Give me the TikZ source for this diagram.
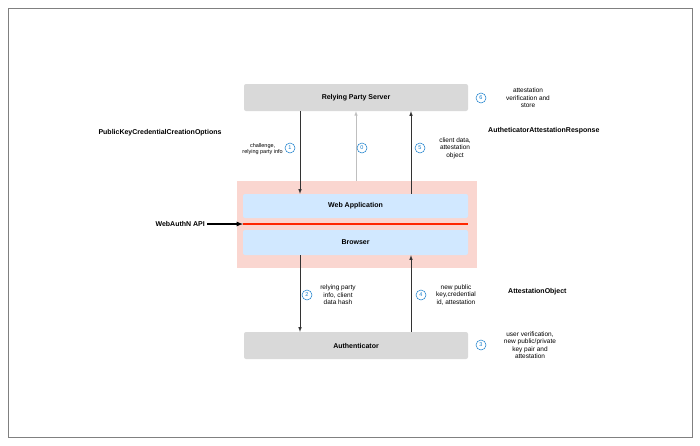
\documentclass[tikz,border=0pt]{standalone}
\usepackage{fontspec}
\setmainfont{Liberation Sans}
\definecolor{pinkbg}{RGB}{250,214,208}
\begin{document}
\begin{tikzpicture}[x=1pt,y=-1pt,
 box/.style={draw=none,rounded corners=2pt,font=\fontsize{7}{8}\selectfont\bfseries},
 gbox/.style={box,fill=gray!30},
 bbox/.style={box,fill=blue!50!cyan!18},
 num/.style={circle,draw=cyan!60!blue,text=cyan!60!blue,line width=0.5pt,inner sep=0pt,minimum size=10pt,font=\fontsize{5.5}{6}\selectfont},
 lab/.style={align=center,font=\fontsize{6.5}{7.5}\selectfont,inner sep=0pt},
 bold/.style={font=\fontsize{7}{8}\selectfont\bfseries,inner sep=0pt},
 arr/.style={-latex,line width=0.6pt,draw=black!80}]
\useasboundingbox (0,0) rectangle (700,445);
\draw[gray,line width=0.6pt] (8,8) rectangle (692,437);
\fill[pinkbg] (237,181) rectangle (477,268);
\node[gbox,minimum width=224pt,minimum height=27pt] (rps) at (356,97.5) {Relying Party Server};
\node[bbox,minimum width=225pt,minimum height=24pt] (web) at (355.5,206) {Web Application};
\node[bbox,minimum width=225pt,minimum height=25pt] (br) at (355.5,242.5) {Browser};
\node[gbox,minimum width=224pt,minimum height=27pt] (au) at (356,345.5) {Authenticator};
\coordinate (rl) at (243,224); \coordinate (rr) at (468,224);
\draw[red!70!orange,line width=1.5pt] (rl) -- (rr);
\node[bold,anchor=east] (api) at (205,224) {WebAuthN API};
\draw[-latex,line width=1.2pt] ([xshift=2pt]api.east) -- (rl);
\draw[arr] (rps.south -| 300,0) -- (web.north -| 300,0);
\draw[-latex,line width=0.5pt,draw=black!25] (356,181) -- (rps.south -| 356,0);
\draw[arr] (web.north -| 411,0) -- (rps.south -| 411,0);
\draw[arr] (br.south -| 300,0) -- (au.north -| 300,0);
\draw[arr] (au.north -| 411,0) -- (br.south -| 411,0);
\node[num] (n1) at (290,148) {1};
\node[num] (n0) at (362,148) {0};
\node[num] (n5) at (420,148) {5};
\node[num] (n6) at (481,98) {6};
\node[num] (n2) at (307,295) {2};
\node[num] (n4) at (421,295) {4};
\node[num] (n3) at (481,345) {3};
\node[lab,font=\fontsize{5.5}{6.5}\selectfont,anchor=east] at (283,149) {challenge,\\relying party info};
\node[lab] at (455,148) {client data,\\attestation\\object};
\node[lab] at (528,98) {attestation\\verification and\\store};
\node[lab] at (338,295) {relying party\\info, client\\data hash};
\node[lab] at (456,295) {new public\\key,credential\\id, attestation};
\node[lab] at (530,345) {user verification,\\new public/private\\key pair and\\attestation};
\node[bold] at (160,133) {PublicKeyCredentialCreationOptions};
\node[bold,anchor=west] at (488,131) {AutheticatorAttestationResponse};
\node[bold,anchor=west] at (508,292) {AttestationObject};
\end{tikzpicture}
\end{document}
